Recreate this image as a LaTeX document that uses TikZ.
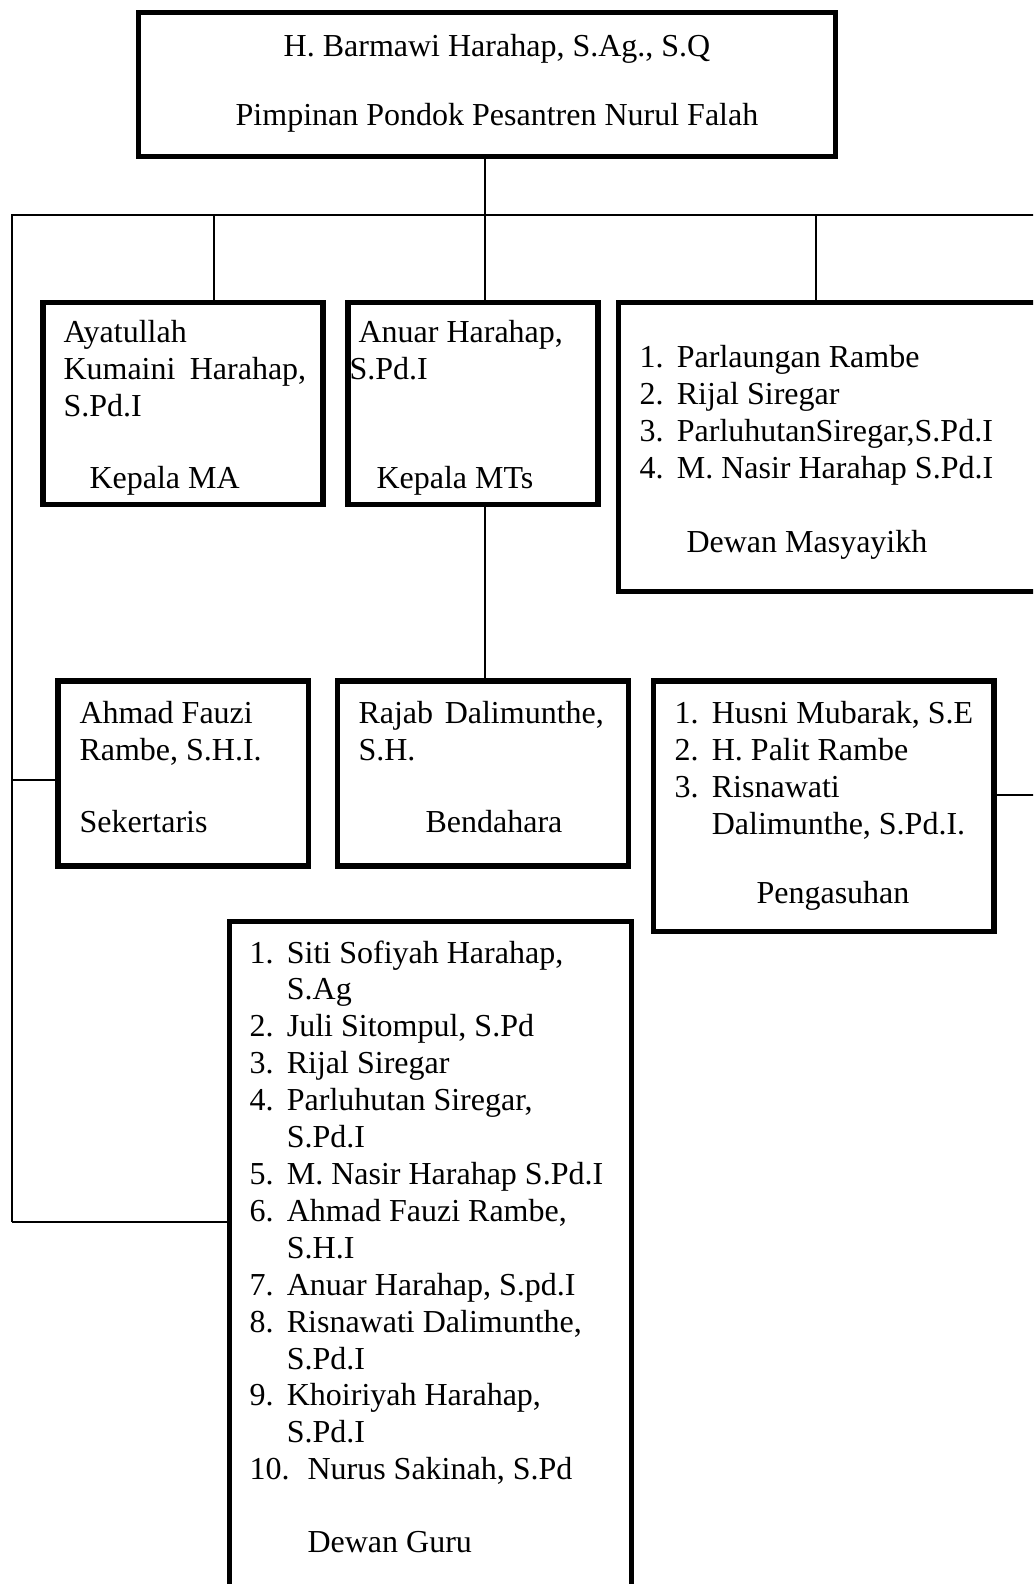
\documentclass[tikz,border=0pt]{standalone}
\usepackage{fontspec}
\setmainfont{Liberation Serif}
\usetikzlibrary{positioning}

\newcommand{\numitem}[2][14pt]{\makebox[#1][l]{#2}}

\begin{document}
\begin{tikzpicture}[x=0.375pt, y=-0.375pt,
    box/.style = {draw, line width=2pt, inner sep=0pt, outer sep=0pt},
    txt/.style = {anchor=north west, inner sep=0pt, align=left,
                  font=\fontsize{12}{13.84}\selectfont, execute at begin node=\strut},
    conn/.style = {line width=0.6pt}]
    \clip (0,0) rectangle (1033,1584);

    % boxes
    \node[box, minimum width=261.4pt, minimum height=54pt] (head) at (487,84.5) {};
    \node[box, minimum width=105pt, minimum height=75.75pt] (ma) at (183,403.5) {};
    \node[box, minimum width=93.75pt, minimum height=75.75pt] (mts) at (473,403.5) {};
    \node[box, minimum width=159.9pt, minimum height=108.4pt] (dm) at (831.75,447) {};
    \node[box, minimum width=93.9pt, minimum height=69.4pt] (sek) at (183.25,773.5) {};
    \node[box, minimum width=109.1pt, minimum height=69.4pt] (ben) at (483,773.5) {};
    \node[box, minimum width=127.7pt, minimum height=93.9pt] (asuh) at (823.75,806.25) {};
    \node[box, minimum width=150.75pt, minimum height=254.4pt] (guru) at (430.5,1260.75) {};

    % texts
    \node[txt, anchor=north] (headName) at (497,30) {H. Barmawi Harahap, S.Ag., S.Q};
    \node[txt, anchor=north] (headRole) at (497,99) {Pimpinan Pondok Pesantren Nurul Falah};

    \node[txt] (maName) at (63,320) {Ayatullah\\ \makebox[91pt][s]{Kumaini Harahap,}\\ S.Pd.I};
    \node[txt] (maRole) at (89,462) {Kepala MA};

    \node[txt] (mtsName) at (349,320) {\hspace*{3.4pt}Anuar Harahap,\\ S.Pd.I};
    \node[txt] (mtsRole) at (376,462) {Kepala MTs};

    \node[txt] (dmList) at (639,345) {\numitem{1.}Parlaungan Rambe\\
        \numitem{2.}Rijal Siregar\\
        \numitem{3.}ParluhutanSiregar,S.Pd.I\\
        \numitem{4.}M. Nasir Harahap S.Pd.I};
    \node[txt] (dmRole) at (686,526) {Dewan Masyayikh};

    \node[txt] (sekName) at (79,701) {Ahmad Fauzi\\ Rambe, S.H.I.};
    \node[txt] (sekRole) at (79,806) {Sekertaris};

    \node[txt] (benName) at (358,701) {\makebox[92pt][s]{Rajab Dalimunthe,}\\ S.H.};
    \node[txt] (benRole) at (425,806) {Bendahara};

    \node[txt] (asuhList) at (674,701) {\numitem{1.}Husni Mubarak, S.E\\
        \numitem{2.}H. Palit Rambe\\
        \numitem{3.}Risnawati\\
        \numitem{}Dalimunthe, S.Pd.I.};
    \node[txt] (asuhRole) at (756,877) {Pengasuhan};

    \node[txt] (guruList) at (249,940) {\numitem{1.}Siti Sofiyah Harahap,\\
        \numitem{}S.Ag\\
        \numitem{2.}Juli Sitompul, S.Pd\\
        \numitem{3.}Rijal Siregar\\
        \numitem{4.}Parluhutan Siregar,\\
        \numitem{}S.Pd.I\\
        \numitem{5.}M. Nasir Harahap S.Pd.I\\
        \numitem{6.}Ahmad Fauzi Rambe,\\
        \numitem{}S.H.I\\
        \numitem{7.}Anuar Harahap, S.pd.I\\
        \numitem{8.}Risnawati Dalimunthe,\\
        \numitem{}S.Pd.I\\
        \numitem{9.}Khoiriyah Harahap,\\
        \numitem{}S.Pd.I\\
        \numitem[21.75pt]{10.}Nurus Sakinah, S.Pd};
    \node[txt] (guruRole) at (307,1526) {Dewan Guru};

    % connectors
    \coordinate (busL) at (12,215);
    \coordinate (busR) at (1040,215);
    \coordinate (dropA) at (214,215);
    \coordinate (dropB) at (485,215);
    \coordinate (dropC) at (816,215);
    \coordinate (leftEnd) at (12,1222);
    \coordinate (sekJoin) at (12,780);
    \coordinate (asuhEnd) at (1040,795);

    \draw[conn] (head.south -| dropB) -- (dropB);
    \draw[conn] (leftEnd) -- (busL) -- (busR);
    \draw[conn] (dropA) -- (dropA |- ma.north);
    \draw[conn] (dropB) -- (dropB |- mts.north);
    \draw[conn] (dropC) -- (dropC |- dm.north);
    \draw[conn] (mts.south -| dropB) -- (dropB |- ben.north);
    \draw[conn] (sekJoin) -- (sekJoin -| sek.west);
    \draw[conn] (leftEnd) -- (leftEnd -| guru.west);
    \draw[conn] (asuhEnd -| asuh.east) -- (asuhEnd);
\end{tikzpicture}
\end{document}
